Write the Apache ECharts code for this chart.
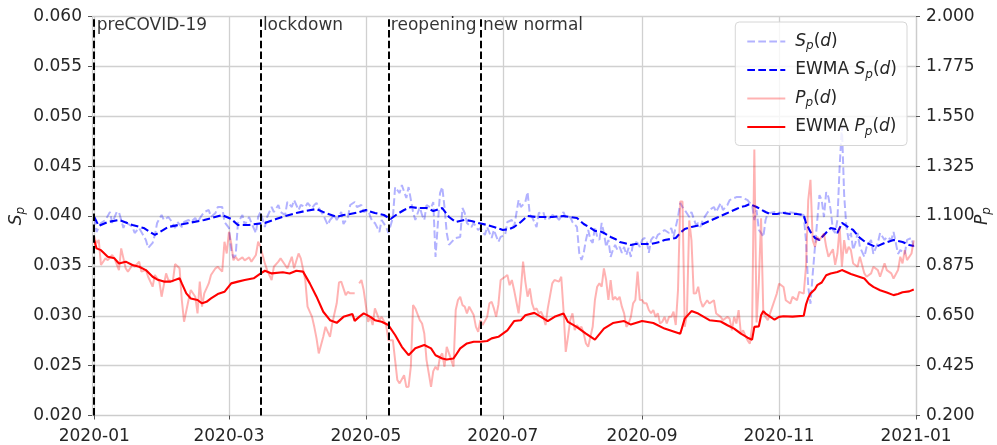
<!DOCTYPE html>
<html>
<head>
<meta charset="utf-8">
<script src="https://cdn.jsdelivr.net/npm/echarts@6/dist/echarts.min.js"></script>
<style>
html, body { margin: 0; padding: 0; background: #fff; }
#chart { width: 997px; height: 445px; }
</style>
</head>
<body>
<div id="chart"></div>
<script>
// [day, value], day = days since 2020-01-01
const spRaw = [[0,.0399],[1,.0384],[3,.0393],[5,.0396],[7,.0404],[8,.0393],[10,.0404],[11,.0404],[13,.0388],[14,.0394],[17,.0389],[18,.0383],[20,.0388],[21,.0384],[23,.0376],[24,.0368],[26,.0373],[27,.0381],[28,.0393],[30,.0401],[31,.0396],[33,.0399],[34,.0396],[36,.0388],[37,.0394],[39,.0389],[40,.0394],[42,.0396],[43,.0394],[45,.0398],[46,.0394],[48,.0401],[49,.0404],[51,.0406],[52,.0399],[54,.0403],[55,.0409],[57,.0409],[58,.0394],[60,.0388],[61,.0366],[62,.0358],[63,.0361],[64,.0393],[66,.0401],[67,.0391],[69,.0399],[70,.0393],[72,.0383],[73,.0399],
  [74,.0404],[76,.0389],[77,.0399],[79,.0409],[80,.0404],[82,.0411],[83,.0404],[85,.0401],[86,.0414],[88,.0409],[89,.0416],[91,.0406],[92,.0411],[94,.0409],[95,.0413],[97,.0408],[98,.0411],[99,.0413],[101,.0404],[102,.0401],[104,.0391],[105,.0396],[107,.0401],[108,.0396],[110,.0404],[111,.0392],[113,.0399],[114,.0411],[116,.0414],[117,.0409],[119,.0411],[120,.0404],[122,.0406],[123,.0399],[124,.0394],[125,.0393],[127,.0384],[128,.0396],[130,.0389],[131,.0383],[133,.0398],[134,.0429],[136,.0423],[137,.0431],[139,.0418],[140,.0429],[142,.0404],[143,.0396],[145,.0409],[146,.0401],
  [147,.0396],[148,.0411],[150,.0408],[151,.0414],[152,.0359],[154,.0423],[155,.0429],[156,.0409],[157,.0383],[158,.0371],[160,.0376],[161,.0378],[163,.0379],[164,.0408],[165,.0403],[166,.0393],[168,.0389],[169,.0393],[171,.0386],[172,.0388],[174,.0381],[175,.0389],[177,.0378],[178,.0386],[180,.0374],[181,.0379],[183,.0381],[184,.0394],[186,.0396],[187,.0389],[189,.0416],[190,.0409],[192,.0414],[193,.0424],[194,.0401],[195,.0399],[197,.0389],[198,.0403],[200,.0404],[201,.0396],[203,.0398],[204,.0401],[206,.0399],[207,.0396],[209,.0404],[210,.0398],[212,.0399],[213,.0394],[215,.0389],[216,.0363],[217,.0356],[218,.0363],[219,.0376],
  [220,.0386],[221,.0376],[222,.0373],[223,.0389],[224,.0379],[225,.0376],[226,.0393],[227,.0383],[228,.0369],[229,.0376],[230,.0359],[231,.0366],[232,.0371],[233,.0366],[234,.0369],[235,.0363],[236,.0369],[237,.0361],[238,.0368],[239,.0359],[240,.0373],[241,.0374],[242,.0373],[243,.0369],[244,.0376],[245,.0378],[246,.0376],[247,.0363],[248,.0376],[249,.0379],[250,.0376],[251,.0381],[253,.0384],[254,.0386],[256,.0383],[257,.0388],[258,.0379],[259,.0389],[260,.0399],[261,.0413],[262,.0409],[263,.0406],[265,.0399],[266,.0404],[268,.0391],[269,.0393],
  [270,.0389],[271,.0396],[273,.0403],[274,.0406],[276,.0409],[277,.0404],[279,.0413],[280,.0406],[282,.0411],[283,.0416],[285,.0418],[286,.0419],[288,.0419],[289,.0418],[291,.0416],[292,.0413],[293,.0411],[294,.0396],[295,.0406],[296,.0386],[297,.0383],[298,.0379],[299,.0396],[300,.0403],[301,.0403],[303,.0404],[306,.0403],[309,.0404],[312,.0403],[314,.0402],[316,.0401],[317,.0375],[318,.0329],[319,.0312],[320,.0342],[321,.0369],[322,.0395],[323,.0421],[324,.0416],[325,.0399],[326,.0424],[327,.0419],[328,.0406],[329,.0386],[330,.0383],[331,.0396],[332,.0450],[333,.0490],[334,.0421],[335,.0389],[336,.0376],[337,.0383],[338,.0366],[339,.0373],[340,.0383],[341,.0369],[343,.0359],[344,.0369],[346,.0376],[347,.0362],[349,.0373],[350,.0383],[352,.0376],[353,.0379],[355,.0376],[356,.0384],[358,.0362],[359,.0366],[361,.0362],[362,.0376],[364,.0378],[365,.0369]];

const spEwma = [[0,.0399],[2,.0390],[6,.0394],[11,.0396],[17,.0391],[22,.0388],[27,.0381],[33,.0389],[42,.0393],[49,.0396],[57,.0401],[61,.0397],[64,.0391],[69,.0391],[72,.0392],[76,.0393],[81,.0397],[85,.0400],[90,.0403],[94,.0405],[99,.0407],[103,.0403],[108,.0399],[111,.0401],[114,.0402],[118,.0404],[121,.0406],[125,.0403],[129,.0401],[132,.0397],[135,.0402],[138,.0406],[141,.0409],[144,.0408],[148,.0408],[151,.0405],[155,.0408],[158,.0399],[161,.0394],[165,.0396],[168,.0395],[171,.0393],[175,.0391],[178,.0389],[182,.0386],[185,.0387],[187,.0389],[190,.0394],[193,.0400],[197,.0399],[201,.0399],[204,.0399],[209,.0400],[212,.0399],[215,.0398],[218,.0392],[221,.0388],[223,.0385],[225,.0385],[227,.0383],[230,.0379],[232,.0377],[234,.0374],[236,.0373],[239,.0371],[241,.0372],[245,.0372],[248,.0372],[250,.0373],[252,.0374],[254,.0376],[257,.0377],[259,.0378],[261,.0383],[263,.0387],[266,.0389],[268,.0390],[270,.0391],[272,.0393],[274,.0395],[277,.0398],[279,.0400],[281,.0402],[283,.0404],[286,.0407],[288,.0409],[290,.0410],[292,.0412],[295,.0409],[299,.0404],[301,.0402],[304,.0402],[307,.0403],[310,.0402],[313,.0402],[316,.0401],[317,.0393],[319,.0384],[321,.0378],[323,.0376],[325,.0381],[328,.0388],[330,.0387],[331,.0383],[333,.0393],[335,.0390],[338,.0386],[341,.0378],[344,.0373],[348,.0369],[352,.0373],[356,.0376],[360,.0374],[363,.0371],[365,.0370]];

const ppRaw = [[0,1.007],[1,.977],[2,.992],[3,.879],[5,.909],[6,.901],[8,.924],[9,.909],[11,.856],[12,.954],[14,.864],[15,.849],[17,.879],[18,.871],[20,.894],[21,.849],[23,.856],[24,.826],[26,.781],[27,.834],[29,.804],[30,.736],[32,.841],[33,.811],[35,.804],[36,.883],[38,.864],[39,.721],[40,.623],[42,.721],[43,.766],[45,.736],[46,.661],[47,.804],[48,.691],[49,.751],[51,.796],[52,.834],[54,.864],[55,.871],[57,.849],[58,.984],[59,.931],[60,1.029],[61,.977],[62,.900],[63,.916],[64,.900],[66,.913],[67,.900],[69,.913],[70,.894],[72,.924],[73,.984],
  [74,.962],[76,.886],[77,.856],[79,.811],[80,.871],[82,.894],[83,.909],[85,.879],[86,.864],[88,.916],[89,.864],[91,.931],[92,.909],[94,.811],[95,.691],[97,.645],[98,.600],[99,.548],[100,.480],[102,.555],[103,.600],[105,.555],[106,.615],[108,.706],[109,.800],[110,.804],[112,.743],[113,.758],[114,.751],[116,.751],[117,'-'],[118,.796],[119,.811],[120,.766],[122,.623],[123,.645],[124,.608],[125,.683],[127,.630],[128,.645],[130,.608],[131,.540],[133,.540],[134,.450],[135,.360],[136,.345],[138,.382],[139,.329],[140,.330],[141,.420],[142,.698],[143,.683],[145,.630],[146,.615],[147,.570],[148,.450],[149,.390],[150,.329],[151,.400],[152,.420],[153,.405],[154,.465],[155,.480],[156,.420],[157,.510],[158,.480],[159,.450],[160,.420],[161,.676],[162,.721],[163,.736],[164,.698],[165,.691],[166,.661],[167,.691],[169,.653],[170,.600],[171,.578],[172,.630],[173,.608],[175,.645],[176,.706],[177,.713],[178,.683],[179,.645],[180,.700],[181,.811],[183,.826],[184,.834],[185,.788],[186,.811],[187,.766],[189,.661],[190,.766],[191,.894],[192,.804],[193,.736],[194,.773],[195,.706],[196,.676],[197,.683],[198,.661],[199,.668],[200,.645],[201,.608],[202,.683],[204,.796],[205,.811],[207,.804],[208,.826],[209,.676],[210,.487],[211,.555],[212,.630],[213,.661],[214,.585],[215,.608],[216,.593],[217,.600],[218,.570],[219,.525],
  [220,.510],[221,.555],[222,.600],[223,.721],[224,.781],[225,.796],[226,.781],[227,.864],[228,.811],[229,.721],[230,.811],[231,.721],[232,.736],[233,.721],[234,.736],[235,.691],[236,.661],[237,.600],[238,.615],[239,.645],[240,.706],[241,.721],[242,.849],[243,.721],[244,.721],[245,.706],[246,.706],[247,.676],[248,.661],[249,.676],[250,.645],[251,.661],[252,.615],[253,.623],[254,.645],[255,.615],[256,.645],[257,.645],[258,.668],[259,.608],[260,.766],[261,1.165],[262,1.165],[263,.600],[264,.660],[265,1.080],[266,.990],[267,.750],[268,.751],[269,.781],
  [270,.720],[271,.690],[273,.720],[274,.705],[276,.720],[277,.660],[279,.645],[280,.630],[282,.645],[283,.637],[284,.584],[285,.645],[286,.615],[287,.675],[288,.569],[289,.584],[290,.560],[291,.539],[292,.524],[293,.600],[294,1.400],[295,.620],[296,.800],[297,1.090],[298,.660],[299,.645],[300,.630],[301,.660],[302,.690],[303,.720],[304,.750],[305,.795],[307,.780],[308,.720],[310,.705],[311,.735],[313,.720],[314,.758],[316,.750],[317,.871],[318,1.172],[319,1.263],[320,.990],[321,.961],[322,1.006],[323,.991],[325,1.021],[326,.961],[327,.916],[329,.950],[330,.880],[331,.931],[332,1.050],[333,.871],[334,.991],[335,.931],[336,.961],[337,.946],[338,.886],[340,.871],[341,.916],[343,.841],[344,.826],[346,.841],[347,.871],[349,.856],[350,.826],[352,.886],[353,.856],[355,.841],[356,.818],[358,.856],[359,.916],[360,.886],[361,.946],[362,.901],[364,.931],[365,.990]];

const ppEwma = [[0,.992],[1,.954],[3,.946],[6,.916],[9,.909],[11,.886],[14,.894],[17,.879],[20,.871],[23,.856],[26,.826],[28,.814],[31,.804],[34,.804],[38,.819],[39,.796],[41,.751],[43,.728],[46,.721],[48,.706],[50,.713],[52,.728],[55,.748],[58,.758],[61,.796],[64,.804],[67,.811],[71,.819],[74,.840],[76,.853],[79,.841],[84,.846],[87,.841],[90,.853],[93,.849],[96,.796],[99,.736],[102,.668],[105,.630],[108,.618],[111,.645],[115,.658],[116,.627],[118,.645],[120,.661],[123,.645],[125,.630],[128,.623],[131,.608],[134,.563],[137,.510],[140,.472],[143,.503],[147,.518],[150,.503],[152,.472],[155,.457],[157,.453],[160,.457],[161,.472],[163,.503],[166,.525],[169,.533],[172,.533],[175,.536],[177,.548],[180,.555],[184,.584],[187,.626],[190,.630],[192,.652],[196,.663],[199,.645],[202,.626],[205,.645],[209,.660],[211,.622],[215,.599],[219,.569],[223,.542],[227,.592],[231,.617],[236,.626],[239,.610],[244,.626],[249,.617],[254,.592],[261,.569],[263,.637],[266,.671],[269,.660],[274,.630],[279,.624],[282,.607],[285,.592],[288,.569],[291,.551],[293,.542],[294,.600],[296,.602],[297,.652],[298,.671],[299,.660],[301,.646],[303,.632],[305,.645],[307,.648],[311,.646],[316,.650],[317,.700],[318,.730],[319,.750],[321,.770],[322,.788],[324,.800],[326,.833],[328,.841],[331,.847],[333,.856],[334,.852],[337,.838],[341,.825],[343,.818],[345,.795],[347,.780],[350,.765],[353,.755],[356,.743],[358,.748],[360,.756],[363,.760],[365,.768]];

const phaseDays = [0, 74, 131, 172];
const phaseNames = ['preCOVID-19', 'lockdown', 'reopening', 'new normal'];

// one category per day, 2019-12-31 .. 2021-01-01
const days = [];
for (let t = Date.UTC(2019, 11, 31); t <= Date.UTC(2021, 0, 1); t += 86400000) {
  days.push(new Date(t).toISOString().slice(0, 10));
}
const idx = d => d + 1;
const toXY = arr => arr.map(p => [idx(p[0]), p[1]]);
const monthTick = (i, v) => v.slice(8) === '01' && Number(v.slice(5, 7)) % 2 === 1;

const FS = 17;
const rich = {
  i: { fontStyle: 'italic', fontSize: FS, lineHeight: 21, color: '#262626' },
  n: { fontSize: FS, lineHeight: 21, color: '#262626' },
  s: { fontStyle: 'italic', fontSize: 12, lineHeight: 8, verticalAlign: 'bottom', color: '#262626' }
};
const legendText = {
  'Sp(d)': '{i|S}{s|p}{n|(}{i|d}{n|)}',
  'EWMA Sp(d)': '{n|EWMA }{i|S}{s|p}{n|(}{i|d}{n|)}',
  'Pp(d)': '{i|P}{s|p}{n|(}{i|d}{n|)}',
  'EWMA Pp(d)': '{n|EWMA }{i|P}{s|p}{n|(}{i|d}{n|)}'
};

const chart = echarts.init(document.getElementById('chart'));
chart.setOption({
  animation: false,
  textStyle: { fontFamily: 'DejaVu Sans' },
  grid: { left: 92, right: 81, top: 16.5, bottom: 29.5, containLabel: false, outerBoundsMode: 'none' },
  legend: {
    data: ['Sp(d)', 'EWMA Sp(d)', 'Pp(d)', 'EWMA Pp(d)'],
    orient: 'vertical',
    right: 90,
    top: 22,
    padding: [11, 10, 8, 11],
    itemWidth: 38,
    itemHeight: 14,
    itemGap: 9.5,
    itemStyle: { opacity: 0 },
    backgroundColor: 'rgba(255,255,255,0.8)',
    borderColor: '#d6d6d6',
    borderWidth: 1,
    borderRadius: 4,
    formatter: n => legendText[n],
    textStyle: { fontSize: FS, color: '#262626', padding: [0, 0, 0, 5], rich: rich }
  },
  xAxis: {
    type: 'category',
    data: days,
    boundaryGap: false,
    axisLine: { show: true, lineStyle: { color: '#cccccc', width: 1.2 } },
    axisTick: { show: true, interval: monthTick, length: 4, lineStyle: { color: '#555' } },
    axisLabel: { interval: monthTick, formatter: v => v.slice(0, 7), fontSize: FS, color: '#262626', margin: 13 },
    splitLine: { show: true, interval: monthTick, lineStyle: { color: '#d0d0d0', width: 1.3 } }
  },
  yAxis: [{
    type: 'value',
    min: 0.02, max: 0.06, interval: 0.005,
    name: '{i|S}{s|p}',
    nameLocation: 'middle',
    nameRotate: 90,
    nameGap: 65,
    nameMoveOverlap: false,
    nameTextStyle: { rich: rich },
    axisLine: { show: true, lineStyle: { color: '#cccccc', width: 1.2 } },
    axisTick: { show: true, length: 4, lineStyle: { color: '#555' } },
    axisLabel: { formatter: v => v.toFixed(3), fontSize: FS, color: '#262626', margin: 10 },
    splitLine: { lineStyle: { color: '#d0d0d0', width: 1.3 } }
  }, {
    type: 'value',
    position: 'right',
    min: 0.2, max: 2.0, interval: 0.225,
    name: '{i|P}{s|p}',
    nameLocation: 'middle',
    nameRotate: 90,
    nameGap: 56,
    nameMoveOverlap: false,
    nameTextStyle: { rich: rich },
    axisLine: { show: true, lineStyle: { color: '#cccccc', width: 1.2 } },
    axisTick: { show: true, length: 4, lineStyle: { color: '#555' } },
    axisLabel: { formatter: v => v.toFixed(3), fontSize: FS, color: '#262626', margin: 10 },
    splitLine: { show: false }
  }],
  series: [{
    name: 'Sp(d)',
    type: 'line',
    data: toXY(spRaw),
    symbol: 'none',
    itemStyle: { color: 'rgba(0,0,255,0.3)' },
    lineStyle: { color: 'rgba(0,0,255,0.3)', width: 2, type: [7.7, 3.3] }
  }, {
    name: 'EWMA Sp(d)',
    type: 'line',
    data: toXY(spEwma),
    symbol: 'none',
    itemStyle: { color: '#0000ff' },
    lineStyle: { color: '#0000ff', width: 2.1, type: [7.7, 3.3] }
  }, {
    name: 'phases',
    type: 'scatter',
    clip: false,
    silent: true,
    symbolSize: 1,
    itemStyle: { color: 'rgba(0,0,0,0)' },
    data: phaseDays.map((d, k) => ({ value: [idx(d), 0.06], name: phaseNames[k] })),
    label: {
      show: true,
      formatter: p => p.name,
      position: [3, 1],
      align: 'left',
      verticalAlign: 'top',
      fontSize: FS,
      color: '#000'
    },
    markLine: {
      silent: true,
      symbol: ['none', 'none'],
      label: { show: false },
      lineStyle: { color: '#000', width: 2, type: [7.5, 3.3] },
      data: phaseDays.map(d => ({ xAxis: days[idx(d)] }))
    }
  }, {
    name: 'Pp(d)',
    type: 'line',
    yAxisIndex: 1,
    data: toXY(ppRaw),
    symbol: 'none',
    itemStyle: { color: 'rgba(255,0,0,0.3)' },
    lineStyle: { color: 'rgba(255,0,0,0.3)', width: 2 }
  }, {
    name: 'EWMA Pp(d)',
    type: 'line',
    yAxisIndex: 1,
    data: toXY(ppEwma),
    symbol: 'none',
    itemStyle: { color: '#ff0000' },
    lineStyle: { color: '#ff0000', width: 2.1 }
  }]
});
</script>
</body>
</html>
